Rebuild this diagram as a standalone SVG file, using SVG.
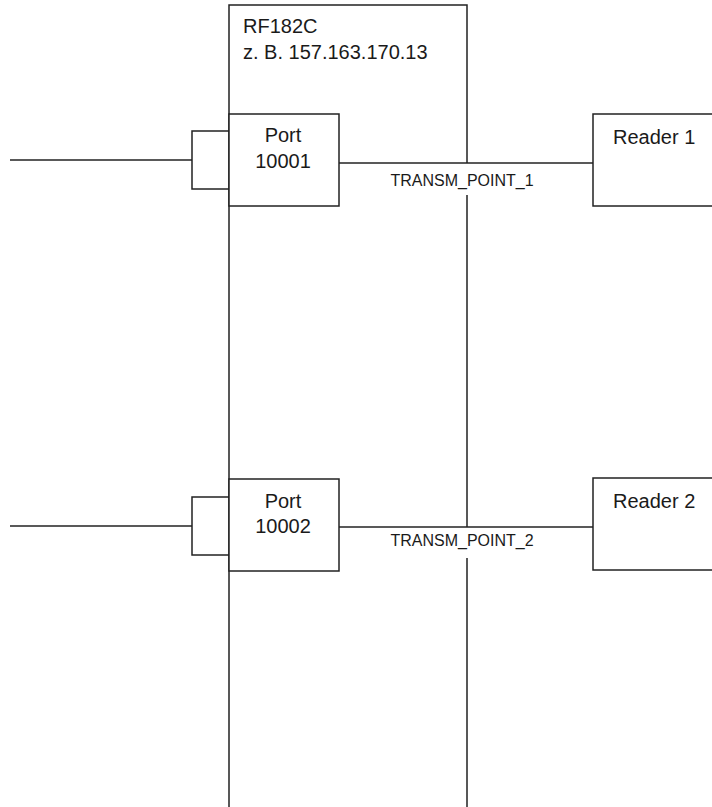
<svg xmlns="http://www.w3.org/2000/svg" width="712" height="807" viewBox="0 0 712 807">
<style>
.ln{fill:none;stroke:#222;stroke-width:1.5}
.box{fill:#fff;stroke:#222;stroke-width:1.5}
.t{font-family:"Liberation Sans",Arial,sans-serif;font-size:20px;fill:#1a1a1a}
.s{font-family:"Liberation Sans",Arial,sans-serif;font-size:16px;fill:#1a1a1a}
</style>
<g id="rf182c">
<path class="ln" d="M229,807 V5 H467 V163 M467,195 V527 M467,558 V807"/>
<text class="t" x="243" y="33">RF182C</text>
<text class="t" x="243" y="59">z. B. 157.163.170.13</text>
</g>
<g id="connectors">
<line class="ln" x1="10" y1="160" x2="192" y2="160"/>
<line class="ln" x1="339" y1="163" x2="593" y2="163"/>
<line class="ln" x1="10" y1="526" x2="192" y2="526"/>
<line class="ln" x1="339" y1="527" x2="593" y2="527"/>
<text class="s" x="462" y="186" text-anchor="middle">TRANSM_POINT_1</text>
<text class="s" x="462" y="546" text-anchor="middle">TRANSM_POINT_2</text>
</g>
<g id="stub1"><rect class="box" x="192" y="131" width="37" height="58"/></g>
<g id="port1">
<rect class="box" x="229" y="114" width="110" height="92"/>
<text class="t" x="283" y="142" text-anchor="middle">Port</text>
<text class="t" x="283" y="168" text-anchor="middle">10001</text>
</g>
<g id="reader1">
<rect class="box" x="593" y="114" width="130" height="92"/>
<text class="t" x="613" y="144">Reader 1</text>
</g>
<g id="stub2"><rect class="box" x="192" y="497" width="37" height="58"/></g>
<g id="port2">
<rect class="box" x="229" y="479" width="110" height="92"/>
<text class="t" x="283" y="508" text-anchor="middle">Port</text>
<text class="t" x="283" y="533" text-anchor="middle">10002</text>
</g>
<g id="reader2">
<rect class="box" x="593" y="478" width="130" height="92"/>
<text class="t" x="613" y="508">Reader 2</text>
</g>
</svg>
